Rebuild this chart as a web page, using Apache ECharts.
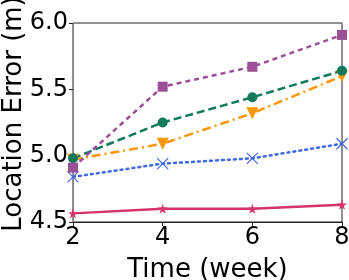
<!DOCTYPE html>
<html>
<head>
<meta charset="utf-8">
<script src="https://cdn.jsdelivr.net/npm/echarts@6/dist/echarts.min.js"></script>
<style>html,body{margin:0;padding:0;background:#fff;}#c{width:349px;height:280px;}</style>
</head>
<body>
<div id="c"></div>
<script>
var weeks = [2, 4, 6, 8];
var purpleSquare = [4.91, 5.52, 5.67, 5.91];
var greenCircle = [4.98, 5.25, 5.44, 5.64];
var orangeTriangle = [4.97, 5.09, 5.32, 5.60];
var blueCross = [4.84, 4.94, 4.98, 5.09];
var pinkStar = [4.565, 4.60, 4.60, 4.63];
var yTicks = [4.5, 5.0, 5.5, 6.0];
var xTitle = 'Time (week)';
var yTitle = 'Location Error (m)';

function pairs(vals) { return weeks.map(function (w, i) { return [w, vals[i]]; }); }

var FONT = 'DejaVu Sans';
var starPath = 'path://M50,0L61.8,35.1L100,35.1L69.1,56.9L80.9,92.1L50,70.4L19.1,92.1L30.9,56.9L0,35.1L38.2,35.1Z';
var crossPath = 'path://M0,0L10,10M10,0L0,10';

var chart = echarts.init(document.getElementById('c'), null, {renderer: 'canvas'});
chart.setOption({
  animation: false,
  backgroundColor: '#fff',
  grid: {left: 73, right: 7, top: 23, bottom: 58, outerBoundsMode: 'none', containLabel: false,
         show: true, borderColor: '#222', borderWidth: 1, backgroundColor: 'transparent'},
  graphic: [{
    type: 'text', x: 14, y: 114, rotation: Math.PI / 2,
    style: {text: yTitle, font: '26px "DejaVu Sans"', fill: '#000', align: 'center', verticalAlign: 'middle'}
  }],
  xAxis: {
    type: 'value', min: 2, max: 8, interval: 2,
    name: xTitle, nameLocation: 'middle', nameGap: 35, nameMoveOverlap: false,
    nameTextStyle: {fontFamily: FONT, fontSize: 26, color: '#000'},
    axisLine: {show: true, lineStyle: {color: '#222', width: 1}},
    axisTick: {show: true, length: 4, lineStyle: {color: '#222'}},
    axisLabel: {fontFamily: FONT, fontSize: 24, color: '#000', margin: 4},
    splitLine: {show: false}
  },
  yAxis: {
    type: 'value', min: 4.5, max: 6.0, interval: 0.5,
    axisLine: {show: true, lineStyle: {color: '#888', width: 1}},
    axisTick: {show: true, length: 4, lineStyle: {color: '#222'}},
    axisLabel: {fontFamily: FONT, fontSize: 24, color: '#000', margin: 5,
      formatter: function (v) { return v.toFixed(1); }},
    splitLine: {show: false}
  },
  series: [
    {type: 'line', data: pairs(pinkStar), symbol: starPath, symbolSize: 10,
     lineStyle: {color: '#d6336c', width: 2.5, type: 'solid'},
     itemStyle: {color: '#d6336c'}},
    {type: 'line', data: pairs(blueCross), symbol: crossPath, symbolSize: 11,
     lineStyle: {color: '#4169e1', width: 2.5, type: [2, 4], cap: 'round'},
     itemStyle: {color: 'none', borderColor: '#4169e1', borderWidth: 1.2}},
    {type: 'line', data: pairs(orangeTriangle), symbol: 'triangle', symbolRotate: 180, symbolSize: 12,
     lineStyle: {color: '#ff9500', width: 2.5, type: [9, 4, 2, 4]},
     itemStyle: {color: '#ff9500'}},
    {type: 'line', data: pairs(greenCircle), symbol: 'circle', symbolSize: 10,
     lineStyle: {color: '#117a5c', width: 2.5, type: [8, 4]},
     itemStyle: {color: '#117a5c'}},
    {type: 'line', data: pairs(purpleSquare), symbol: 'rect', symbolSize: 10,
     lineStyle: {color: '#9b4f96', width: 2.5, type: [5, 4]},
     itemStyle: {color: '#9b4f96'}}
  ]
});
</script>
</body>
</html>
